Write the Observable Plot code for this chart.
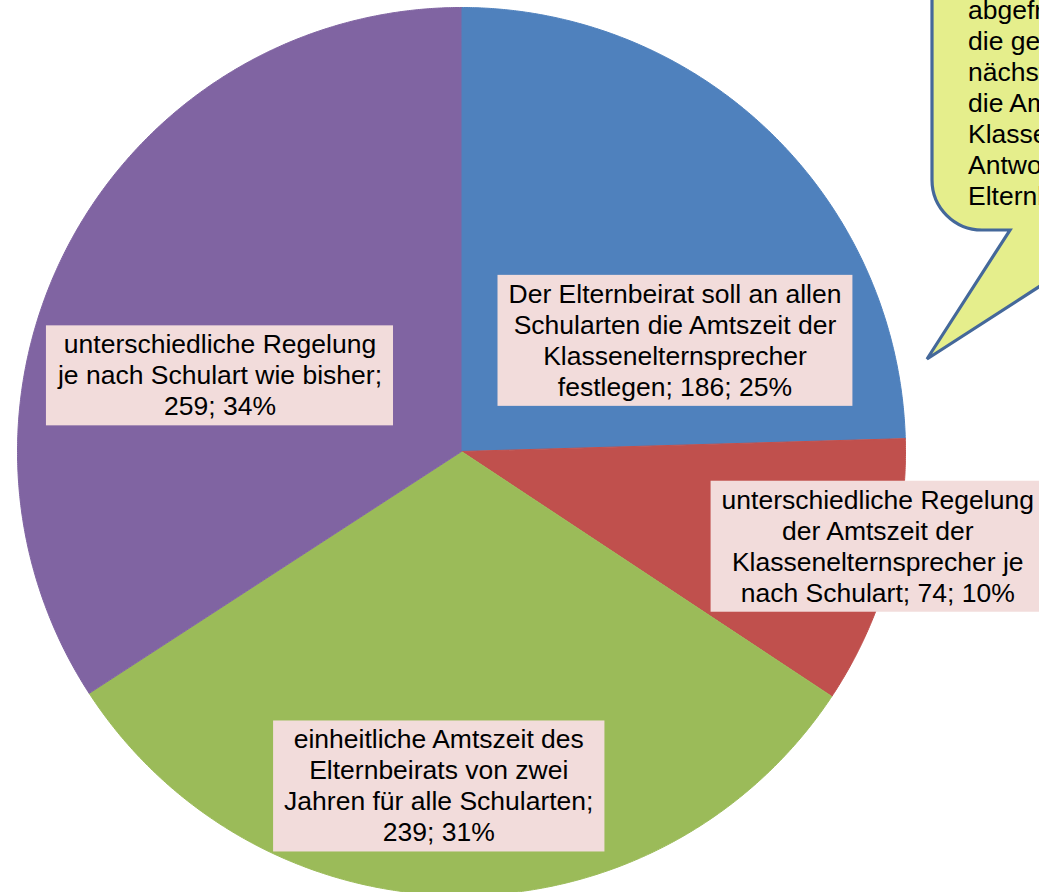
<!DOCTYPE html>
<html><head><meta charset="utf-8">
<script src="https://cdn.jsdelivr.net/npm/d3@7"></script>
<script src="https://cdn.jsdelivr.net/npm/@observablehq/plot@0.6"></script>
<style>
html,body{margin:0;padding:0;background:#fff;}
#wrap{position:relative;width:1039px;height:892px;overflow:hidden;background:#fff;}
#wrap svg{display:block;}
#callout{position:absolute;left:0;top:0;}
</style></head><body>
<div id="wrap"></div>
<script>
// ---- data ----
const categories = [
  "Der Elternbeirat soll an allen Schularten die Amtszeit der Klassenelternsprecher festlegen",
  "unterschiedliche Regelung der Amtszeit der Klassenelternsprecher je nach Schulart",
  "einheitliche Amtszeit des Elternbeirats von zwei Jahren für alle Schularten",
  "unterschiedliche Regelung je nach Schulart wie bisher"
];
const values = [186, 74, 239, 259];
const percents = [25, 10, 31, 34];
const colors = ["#4f81bd", "#c0504d", "#9bbb59", "#8064a2"];
const calloutLines = [
  "abgefragt, welche Regelung",
  "die gesetzliche Änderung in der",
  "nächsten Legislaturperiode für",
  "die Amtszeit der",
  "Klassenelternsprecher vorsehen",
  "Antwort der befragten",
  "Elternbeiräte"
];

// ---- layout ----
const W = 1039, H = 892, R = 444, CX = 461, CY = 451;
const FS = 26.5, FF = "'Liberation Sans', Arial, sans-serif";
const labelLayout = [
  {angle: 62.3, r: 0.543},
  {angle: 102.7, r: 0.961},
  {angle: 183.9, r: 0.753},
  {angle: 287.7, r: 0.571}
];

const data = categories.map((name, i) => ({name, value: values[i], pct: percents[i]}));
const arcs = d3.pie().sort(null).value(d => d.value)(data);

const piePoints = [];
arcs.forEach(a => {
  piePoints.push({name: a.data.name, x: 0, y: 0});
  const n = Math.max(2, Math.ceil((a.endAngle - a.startAngle) / 0.005));
  for (let k = 0; k <= n; k++) {
    const t = a.startAngle + (a.endAngle - a.startAngle) * k / n;
    piePoints.push({name: a.data.name, x: Math.sin(t), y: -Math.cos(t)});
  }
});

const ctx = document.createElement("canvas").getContext("2d");
ctx.font = `${FS}px ${FF}`;
function wrap(text, maxW) {
  const words = text.split(" ");
  const lines = [];
  let cur = "";
  for (const w of words) {
    const t = cur ? cur + " " + w : w;
    if (!cur || ctx.measureText(t).width <= maxW) cur = t;
    else { lines.push(cur); cur = w; }
  }
  lines.push(cur);
  return lines.join("\n");
}

const labels = data.map((d, i) => {
  const a = labelLayout[i].angle * Math.PI / 180;
  return {
    name: d.name,
    x: labelLayout[i].r * Math.sin(a),
    y: -labelLayout[i].r * Math.cos(a),
    text: wrap(`${d.name}; ${d.value}; ${d.pct}%`, 336.5)
  };
});

const svg = Plot.plot({
  width: W, height: H,
  margin: 0,
  x: {domain: [-CX / R, (W - CX) / R], range: [0, W], axis: null},
  y: {domain: [-CY / R, (H - CY) / R], range: [0, H], axis: null},
  color: {domain: categories, range: colors},
  style: {fontFamily: FF, background: "white", overflow: "hidden"},
  marks: [
    Plot.line(piePoints, {x: "x", y: "y", z: "name", fill: "name", stroke: "name", strokeWidth: 1, curve: "linear"}),
    Plot.text(labels, {x: "x", y: "y", text: "text", fontSize: FS, fontFamily: FF, lineHeight: 31 / FS, fill: "#000"})
  ]
});

const wrapEl = document.getElementById("wrap");
wrapEl.appendChild(svg);

// label boxes behind texts
const ns = "http://www.w3.org/2000/svg";
const textG = svg.querySelector('g[aria-label="text"]');
if (textG) {
  textG.querySelectorAll("text").forEach(t => {
    const b = t.getBBox();
    const r = document.createElementNS(ns, "rect");
    r.setAttribute("x", b.x - 11);
    r.setAttribute("y", b.y - 4);
    r.setAttribute("width", b.width + 22);
    r.setAttribute("height", b.height + 8);
    r.setAttribute("fill", "#f2dcdb");
    r.setAttribute("stroke", "none");
    const tr = t.getAttribute("transform");
    if (tr) r.setAttribute("transform", tr);
    textG.insertBefore(r, t);
  });
}

// callout bubble (annotation)
const co = document.createElementNS(ns, "svg");
co.setAttribute("id", "callout");
co.setAttribute("width", W);
co.setAttribute("height", H);
const path = document.createElementNS(ns, "path");
path.setAttribute("d", "M932,-60 L932,180 A50,50 0 0 0 982,230 L1010,230 L927,359 L1127,230 L1300,230 L1300,-60 Z");
path.setAttribute("fill", "#e5ee8c");
path.setAttribute("stroke", "#44689a");
path.setAttribute("stroke-width", 3.2);
path.setAttribute("stroke-linejoin", "miter");
co.appendChild(path);
calloutLines.forEach((line, i) => {
  const tx = document.createElementNS(ns, "text");
  tx.setAttribute("x", 968);
  tx.setAttribute("y", 19 + 31 * i);
  tx.setAttribute("font-family", FF);
  tx.setAttribute("font-size", FS);
  tx.setAttribute("fill", "#000");
  tx.textContent = line;
  co.appendChild(tx);
});
wrapEl.appendChild(co);
</script>
</body></html>
